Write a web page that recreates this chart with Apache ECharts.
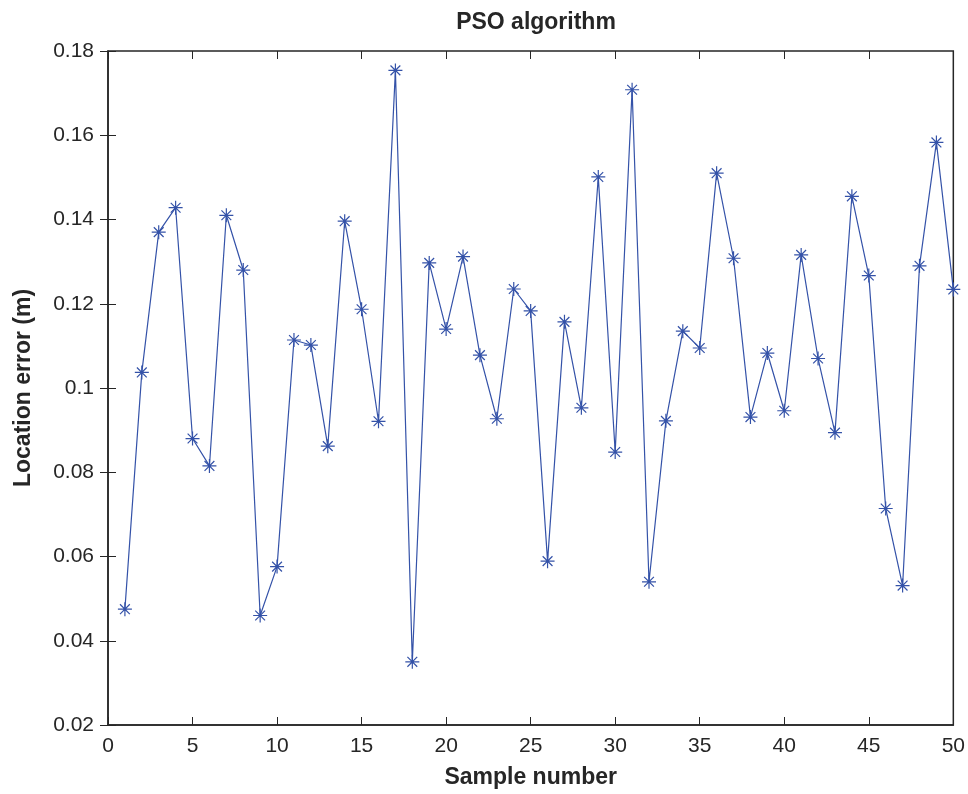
<!DOCTYPE html>
<html>
<head>
<meta charset="utf-8">
<style>
  html, body { margin: 0; padding: 0; background: #fff; }
  #main { width: 968px; height: 794px; }
</style>
<script src="https://cdn.jsdelivr.net/npm/echarts@6/dist/echarts.min.js"></script>
</head>
<body>
<div id="main"></div>
<script>
// sample index 1..50 and PSO location error (m)
var samples = [];
for (var i = 1; i <= 50; i++) samples.push(i);

var errors = [
  0.0475, 0.1037, 0.1370, 0.1428, 0.0880, 0.0815, 0.1410, 0.1280, 0.0460, 0.0576,
  0.1114, 0.1102, 0.0862, 0.1396, 0.1187, 0.0921, 0.1754, 0.0350, 0.1297, 0.1140,
  0.1312, 0.1078, 0.0927, 0.1235, 0.1183, 0.0589, 0.1157, 0.0953, 0.1501, 0.0848,
  0.1708, 0.0540, 0.0922, 0.1135, 0.1095, 0.1510, 0.1308, 0.0931, 0.1083, 0.0946,
  0.1316, 0.1070, 0.0894, 0.1455, 0.1267, 0.0714, 0.0531, 0.1290, 0.1583, 0.1234
];

var xMin = 0, xMax = 50, xStep = 5;
var yMin = 0.02, yMax = 0.18, yStep = 0.02;

var ink = '#262626';
var blue = '#3452a8';
var font = 'Liberation Sans, Arial, Helvetica, sans-serif';

// MATLAB style '*' marker
var star = 'path://M0,-10L0,10M-10,0L10,0M-7,-7L7,7M-7,7L7,-7';

var data = samples.map(function (s, k) { return [s, errors[k]]; });

function fmtY(v) { return String(+v.toFixed(2)); }

var chart = echarts.init(document.getElementById('main'));

var tickIn = { show: true, inside: true, length: 8, lineStyle: { color: ink, width: 1 } };

chart.setOption({
  animation: false,
  backgroundColor: '#fff',
  title: {
    text: 'PSO algorithm',
    left: 531,
    textAlign: 'center',
    top: 6,
    textStyle: { fontFamily: font, fontSize: 23, fontWeight: 'bold', color: ink }
  },
  grid: {
    left: 108, right: 13, top: 51, bottom: 68,
    show: true, borderColor: ink, borderWidth: 1.5, backgroundColor: '#fff'
  },
  xAxis: [{
    type: 'value', min: xMin, max: xMax, interval: xStep,
    name: 'Sample number', nameLocation: 'middle', nameGap: 41,
    nameTextStyle: { fontFamily: font, fontSize: 23, fontWeight: 'bold', color: ink },
    axisLine: { show: true, lineStyle: { color: ink, width: 1.5 } },
    axisTick: tickIn,
    splitLine: { show: false },
    axisLabel: { fontFamily: font, fontSize: 21, color: ink, margin: 11 }
  }, {
    type: 'value', min: xMin, max: xMax, interval: xStep, position: 'top',
    axisLine: { show: false }, axisTick: tickIn,
    splitLine: { show: false }, axisLabel: { show: false }
  }],
  yAxis: [{
    type: 'value', min: yMin, max: yMax, interval: yStep,
    name: 'Location error (m)', nameLocation: 'middle', nameGap: 73,
    nameTextStyle: { fontFamily: font, fontSize: 23, fontWeight: 'bold', color: ink },
    axisLine: { show: true, lineStyle: { color: ink, width: 1.5 } },
    axisTick: tickIn,
    splitLine: { show: false },
    axisLabel: { fontFamily: font, fontSize: 21, color: ink, margin: 14, formatter: fmtY }
  }, {
    type: 'value', min: yMin, max: yMax, interval: yStep, position: 'right',
    axisLine: { show: false }, axisTick: tickIn,
    splitLine: { show: false }, axisLabel: { show: false }
  }],
  series: [{
    type: 'line',
    data: data,
    symbol: star,
    symbolSize: 14,
    showAllSymbol: true,
    lineStyle: { color: blue, width: 1.2 },
    itemStyle: { color: blue, borderColor: blue, borderWidth: 1.2 }
  }]
});
</script>
</body>
</html>
